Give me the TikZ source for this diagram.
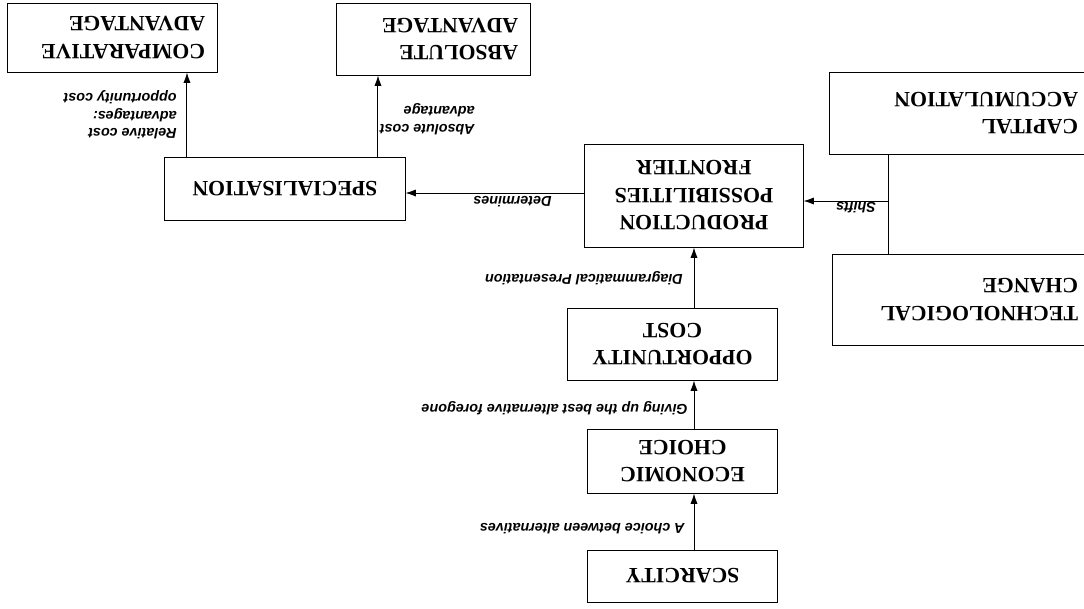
\documentclass[tikz,border=0pt]{standalone}
\usepackage{fontspec}
\setmainfont{Liberation Serif}
\setsansfont{Liberation Sans}
\usepackage{tikz}
\usetikzlibrary{arrows.meta, positioning, calc}

\tikzset{
	box/.style={draw, line width=0.7pt, inner sep=0pt, align=center,
		font=\fontsize{15.5}{19.5}\selectfont\bfseries},
	lbox/.style={box, align=left, inner xsep=0.3cm},
	arr/.style={-{Latex[length=2.6mm,width=1.8mm]}, line width=0.7pt},
	lbl/.style={inner sep=0pt, align=left,
		font=\fontsize{10.2}{12.5}\selectfont\sffamily\bfseries\itshape}
}

\begin{document}
\fontsize{15.5}{19.5}\selectfont
\begin{tikzpicture}[x=0.025cm, y=0.025cm]
	% the whole page is printed upside down
	\begin{scope}[rotate=180, transform shape]
		\useasboundingbox (0,0) rectangle (1084,608);
		% Main column
		\node[box, minimum width=4.725cm, minimum height=1.3cm] (scar) at (401.5,576) {SCARCITY};
		\node[box, minimum width=4.725cm, minimum height=1.6cm] (econ) at (401.5,461) {ECONOMIC\\CHOICE};
		\node[box, minimum width=5.225cm, minimum height=1.8cm] (opp) at (411.5,344) {OPPORTUNITY\\COST};
		\node[box, minimum width=5.45cm, minimum height=2.575cm] (ppf) at (390,195.5) {PRODUCTION\\POSSIBILITIES\\FRONTIER};
		% Shifters of the frontier
		\node[lbox, text width=5.9cm, minimum height=2.05cm] (cap) at (124,113) {CAPITAL\\ACCUMULATION};
		\node[lbox, text width=5.825cm, minimum height=2.275cm] (tech) at (122.5,299.5) {TECHNOLOGICAL\\CHANGE};
		% Specialisation and advantages
		\node[box, minimum width=6cm, minimum height=1.575cm] (spec) at (799,188.5) {SPECIALISATION};
		\node[lbox, text width=4.225cm, minimum height=1.8cm] (abs) at (650.5,39) {ABSOLUTE\\ADVANTAGE};
		\node[lbox, text width=4.625cm, minimum height=1.725cm] (comp) at (971.5,37.5) {COMPARATIVE\\ADVANTAGE};

		\coordinate (spine) at (390,0);
		\coordinate (det) at (0,193);
		\coordinate (join) at (196,201);
		\coordinate (absx) at (706,0);
		\coordinate (compx) at (897,0);

		\draw[arr] (scar.south -| spine) -- (econ.north -| spine);
		\draw[arr] (econ.south -| spine) -- (opp.north -| spine);
		\draw[arr] (opp.south -| spine) -- (ppf.north -| spine);
		\draw[arr] (ppf.east |- det) -- (spec.west |- det);
		\draw (cap.north -| join) -- (tech.south -| join);
		\draw[arr] (join) -- (ppf.west |- join);
		\draw[arr] (spec.south -| absx) -- (abs.north -| absx);
		\draw[arr] (spec.south -| compx) -- (comp.north -| compx);

		% Labels
		\node[lbl, anchor=west] (l1) at (399,529) {A choice between alternatives};
		\node[lbl, anchor=west] (l2) at (396,408) {Giving up the best alternative foregone};
		\node[lbl, anchor=west] (l3) at (401,278) {Diagrammatical Presentation};
		\node[lbl] (l4) at (571.5,202) {Determines};
		\node[lbl] (l5) at (228,208) {Shifts};
		\node[lbl, anchor=west] (l6) at (609,119) {Absolute cost\\advantage};
		\node[lbl, anchor=west] (l7) at (907,115) {Relative cost\\advantages:\\opportunity cost};
	\end{scope}
\end{tikzpicture}
\end{document}
